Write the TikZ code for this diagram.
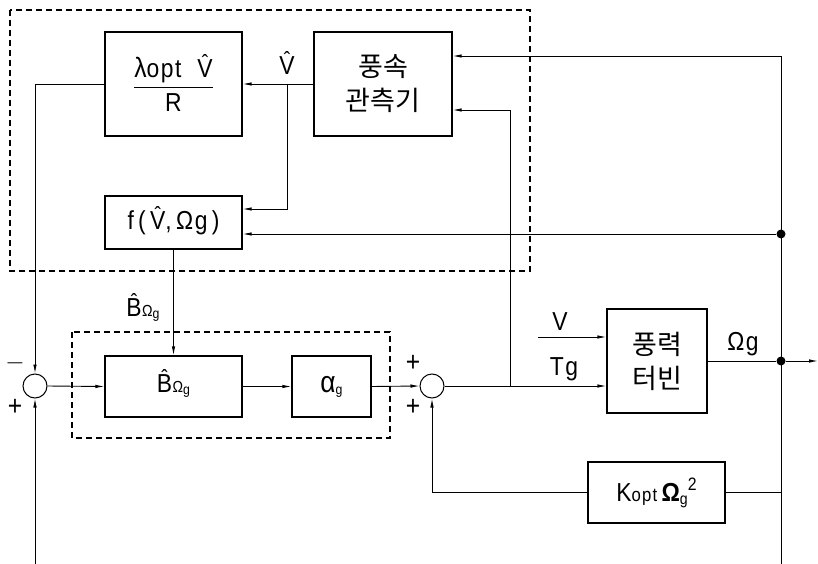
\documentclass[tikz,border=0pt]{standalone}
\usepackage{amsmath}
\usepackage{fontspec}
\setmainfont{Liberation Sans}[FakeStretch=0.88, LetterSpace=6]
\newfontfamily\krfont{Noto Sans CJK KR}
\usetikzlibrary{arrows.meta,positioning,calc}
\newcommand\hatted[1]{{\ooalign{#1\cr\hidewidth\raisebox{7pt}{\fontsize{22}{22}\selectfont ˆ}\hidewidth\cr}}}
\newcommand\bhat{\hatted{B}\kern0.5pt{\fontsize{16}{16}\selectfont Ω\raisebox{-2pt}{\fontsize{14}{14}\selectfont g}}}
\tikzset{
  blk/.style={draw, rectangle, line width=1.3pt, align=center, inner sep=0pt, font=\fontsize{26}{30}\selectfont},
  krblk/.style={blk, font=\krfont\fontsize{27}{34}\selectfont},
  sumj/.style={draw, circle, line width=1pt, minimum size=24pt, inner sep=0pt},
  arr/.style={-{Latex[length=9pt,width=3.5pt]}, line width=0.9pt},
  ln/.style={line width=0.9pt},
  grp/.style={line width=1.1pt, dash pattern=on 6pt off 4pt},
  lbl/.style={font=\fontsize{26}{30}\selectfont, inner sep=0pt},
  sgn/.style={font=\fontsize{28}{30}\selectfont, inner sep=0pt},
  dot/.style={circle, fill, minimum size=9pt, inner sep=0pt},
}

\begin{document}
\begin{tikzpicture}[x=1pt, y=-1pt]
\useasboundingbox (0,0) rectangle (818,564);

% Blocks
\node[blk, minimum width=137pt, minimum height=104pt] (lam) at (173.5,84)
  {$\dfrac{\text{{\fontsize{28}{30}\selectfont λ}opt\ \ \hatted{V}}}{\text{R}}$};
\node[krblk, minimum width=138pt, minimum height=104pt] (obs) at (383,84) {풍속\\관측기};
\node[blk, minimum width=137pt, minimum height=53pt] (fbox) at (173.5,222.5)
  {f\,(\,\hatted{V},\,Ωg\,)};
\node[blk, minimum width=137pt, minimum height=61pt] (bbox) at (173.5,386.5) {\bhat};
\node[blk, minimum width=79pt, minimum height=61pt] (abox) at (331.5,386.5)
  {{\fontsize{30}{30}\selectfont α}\raisebox{-2pt}{\fontsize{14}{14}\selectfont g}};
\node[krblk, minimum width=100pt, minimum height=104pt] (tur) at (657,361) {풍력\\터빈};
\node[blk, minimum width=137pt, minimum height=61pt] (kopt) at (656.5,492.5)
  {K{\fontsize{19}{19}\selectfont opt}\,{\bfseries Ω}\raisebox{-3pt}{\fontsize{16}{16}\selectfont g}\raisebox{11pt}{\fontsize{18}{18}\selectfont 2}};

% Summing junctions
\node[sumj] (s1) at (35,386) {};
\node[sumj] (s2) at (432,386) {};

% Branch points
\coordinate (vb) at (287,84);
\coordinate (rt) at (781,56);
\coordinate (rb) at (781,564);
\coordinate (lb) at (35,564);
\coordinate (tb) at (510,386);
\coordinate (vin) at (538,337);
\coordinate (out) at (818,361);
\node[dot] (d1) at (781,234) {};
\node[dot] (d2) at (781,361) {};

% Dashed groups
\draw[grp] (10,10) rectangle (530,271);
\draw[grp] (72,332) rectangle (390,438);

% Connectors
\draw[arr] (obs.west) -- (lam.east);
\draw[arr] (vb) |- ([yshift=13.5pt]fbox.east);
\draw[ln] (rt) -- (rb);
\draw[arr] (rt) -- (rt -| obs.east);
\draw[arr] (d1) -- (d1 -| fbox.east);
\draw[arr] (tb) |- ([yshift=-26pt]obs.east);
\draw[arr] (lam.west) -| (s1.north);
\draw[arr] (lb) -- (s1.south);
\draw[arr] (s1.east) -- (bbox.west);
\draw[arr] (fbox.south) -- (bbox.north);
\draw[arr] (bbox.east) -- (abox.west);
\draw[arr] (abox.east) -- (s2.west);
\draw[arr] (s2.east) -- (s2.east -| tur.west);
\draw[arr] (vin) -- (vin -| tur.west);
\draw[ln] (tur.east) -- (d2);
\draw[arr] (d2) -- (out);
\draw[ln] (kopt.east) -- (kopt.east -| rb);
\draw[arr] (kopt.west) -| (s2.south);

% Labels
\node[lbl] (vhlbl) at (287,66) {\hatted{V}};
\node[lbl] (blbl) at (143,310) {\bhat};
\node[lbl] (vlbl) at (560,322) {V};
\node[lbl] (tglbl) at (564,369) {Tg};
\node[lbl] (wlbl) at (743,344) {Ωg};
\node[sgn] (m1) at (15,363) {$-$};
\node[sgn] (p1) at (15,407) {+};
\node[sgn] (p2) at (413,363) {+};
\node[sgn] (p3) at (413,407) {+};

\end{tikzpicture}
\end{document}
